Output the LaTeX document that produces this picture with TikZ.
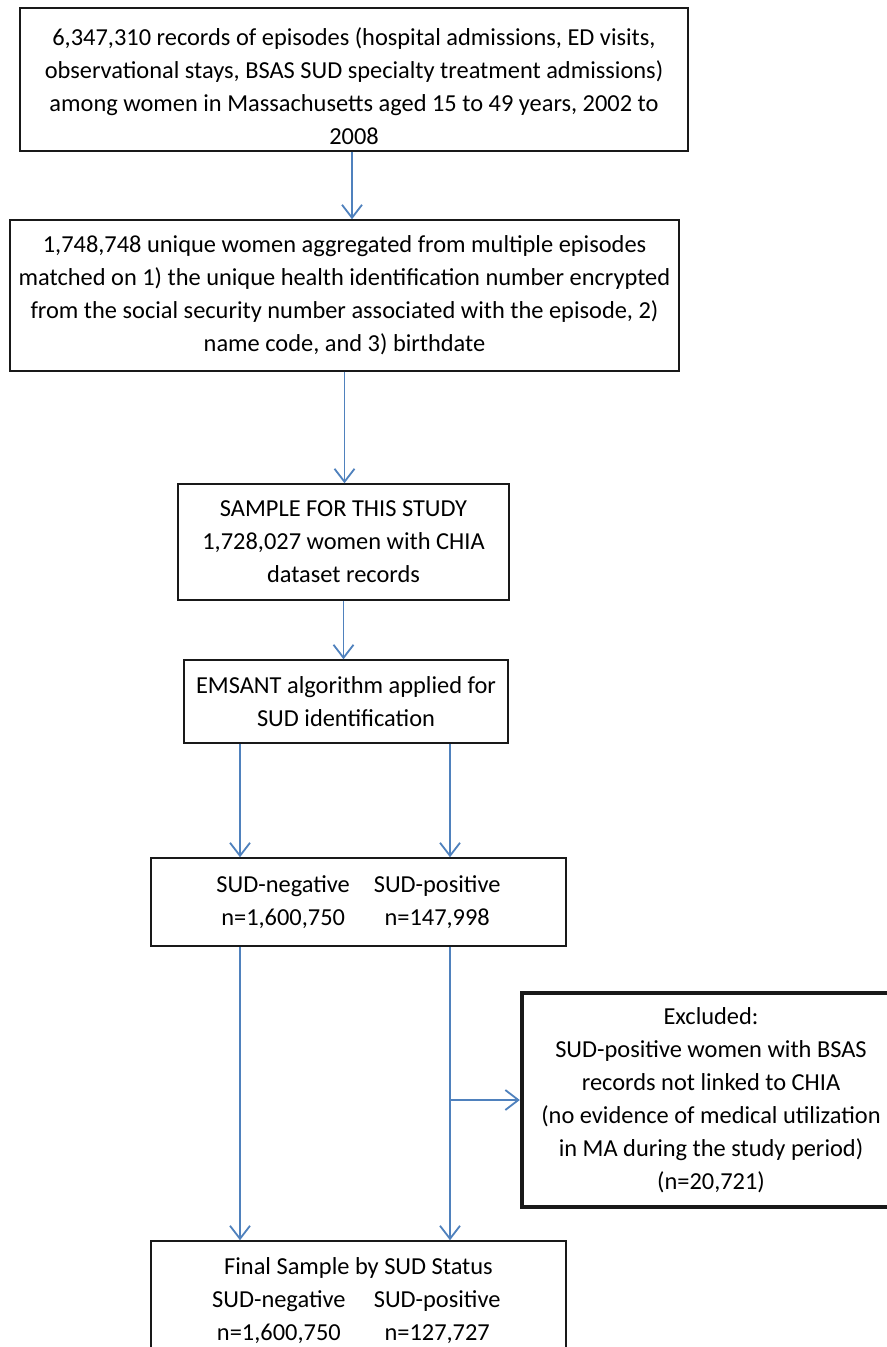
\documentclass[tikz,border=0pt]{standalone}
\usepackage{fontspec}
\setmainfont{Carlito}
\usetikzlibrary{arrows.meta}
\definecolor{arrowblue}{RGB}{79,129,189}
\begin{document}
\begin{tikzpicture}[x=0.5pt,y=-0.5pt,
  box/.style={draw=black!90, line width=0.75pt, align=center, inner sep=0pt,
    font=\fontsize{12.2}{16.5}\selectfont},
  thickbox/.style={box, line width=2.2pt},
  flow/.style={draw=arrowblue, line width=0.9pt, -{Straight Barb[length=6.5pt,width=10pt]}}]
\clip (0,0) rectangle (887,1347);
\fill[white] (0,0) rectangle (887,1347);
\coordinate (colL) at (240,0);
\coordinate (colR) at (450,0);
\node[box, minimum width=334pt, minimum height=71.5pt] (b1) at (354,79.5) {};
\node[align=center, inner sep=0pt, font=\fontsize{12.2}{16.5}\selectfont] (t1) at (354,86)
  {6,347,310 records of episodes (hospital admissions, ED visits,\\
   observational stays, BSAS SUD specialty treatment admissions)\\
   among women in Massachusetts aged 15 to 49 years, 2002 to\\
   2008};
\node[box, minimum width=334.5pt, minimum height=75.5pt] (b2) at (344.5,295.5)
  {1,748,748 unique women aggregated from multiple episodes\\
   matched on 1) the unique health identification number encrypted\\
   from the social security number associated with the episode, 2)\\
   name code, and 3) birthdate};
\node[box, minimum width=165.5pt, minimum height=58pt] (b3) at (343.5,542)
  {SAMPLE FOR THIS STUDY\\
   1,728,027 women with CHIA\\
   dataset records};
\node[box, minimum width=162pt, minimum height=41.5pt] (b4) at (346,701.5)
  {EMSANT algorithm applied for\\
   SUD identification};
\node[box, minimum width=207.5pt, minimum height=44pt] (b5) at (358.5,902)
  {\begin{tabular}{@{}c@{\hspace{12pt}}c@{}}
   SUD-negative & SUD-positive\\
   n=1,600,750 & n=147,998
   \end{tabular}};
\node[thickbox, minimum width=189pt, minimum height=107pt] (ex) at (711,1100)
  {Excluded:\\
   SUD-positive women with BSAS\\
   records not linked to CHIA\\
   (no evidence of medical utilization\\
   in MA during the study period)\\
   (n=20,721)};
\node[box, minimum width=207.5pt, minimum height=59.5pt] (b6) at (358.5,1300.5)
  {\begin{tabular}{@{}c@{\hspace{12pt}}c@{}}
   \multicolumn{2}{c}{Final Sample by SUD Status}\\
   SUD-negative & SUD-positive\\
   n=1,600,750 & n=127,727
   \end{tabular}};
\draw[flow] ([xshift=-1pt]b1.south) -- ([xshift=-1pt]b1.south |- b2.north);
\draw[flow] (b2.south) -- (b2.south |- b3.north);
\draw[flow] (b3.south) -- (b3.south |- b4.north);
\draw[flow] (b4.south -| colL) -- (b5.north -| colL);
\draw[flow] (b4.south -| colR) -- (b5.north -| colR);
\draw[flow] (b5.south -| colL) -- (b6.north -| colL);
\draw[flow] (b5.south -| colR) -- (b6.north -| colR);
\draw[flow] (ex.west -| colR) -- (ex.west);
\end{tikzpicture}
\end{document}
